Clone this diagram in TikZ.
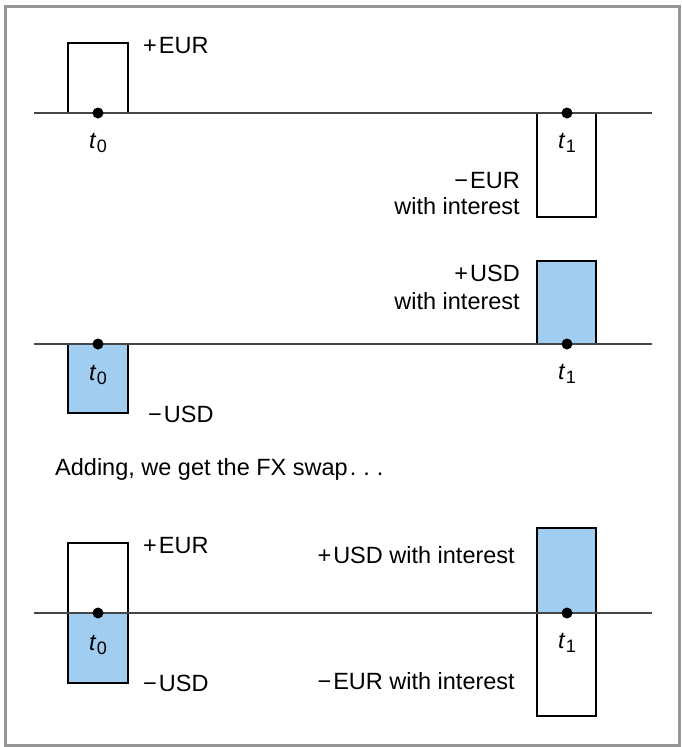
\documentclass[tikz,border=0pt]{standalone}
\usepackage{fontspec}
\setmainfont{Liberation Sans}
\definecolor{cashblue}{RGB}{160,205,240}
\definecolor{framegray}{RGB}{150,150,150}
\definecolor{axisgray}{RGB}{70,70,70}
\newcommand{\tsub}[1]{\textit{t}\kern0.5pt\raisebox{-0.4ex}{\fontsize{18}{19}\selectfont #1}}
\begin{document}
\begin{tikzpicture}[x=1pt,y=-1pt,
  axisline/.style={draw=axisgray,line width=1.5pt},
  cashbox/.style={draw=black,line width=2pt},
  bluebox/.style={fill=cashblue},
  dotmark/.style={circle,fill=black,inner sep=0pt,minimum size=11pt},
  lbl/.style={inner sep=0pt,font=\fontsize{23.5}{27}\selectfont},
  tlbl/.style={inner sep=0pt,font=\fontsize{23.5}{27}\selectfont,anchor=base}]
\useasboundingbox (0,0) rectangle (681,747);
\draw[framegray,line width=3pt] (5.5,6.5) rectangle (679,745);

% ---------- panel 1 ----------
\coordinate (a1l) at (34,113);
\coordinate (a1r) at (652,113);
\draw[cashbox] (68,113) rectangle (128,43);
\draw[cashbox] (537,113) rectangle (596,217);
\draw[axisline] (a1l) -- (a1r);
\node[dotmark] (d10) at (98,113) {};
\node[dotmark] (d11) at (567,113) {};
\node[tlbl] (t10) at (98,148) {\tsub{0}};
\node[tlbl] (t11) at (567,148) {\tsub{1}};
\node[lbl,anchor=base west] (p1eur) at (143,53) {+\kern2pt EUR};
\node[lbl,anchor=base east] (m1eur) at (520,188) {−\kern2pt EUR};
\node[lbl,anchor=base east] (m1int) at (520,214) {with interest};

% ---------- panel 2 ----------
\coordinate (a2l) at (34,344);
\coordinate (a2r) at (652,344);
\draw[cashbox,bluebox] (68,344) rectangle (128,413);
\draw[cashbox,bluebox] (537,344) rectangle (596,261);
\draw[axisline] (a2l) -- (a2r);
\node[dotmark] (d20) at (98,344) {};
\node[dotmark] (d21) at (567,344) {};
\node[tlbl] (t20) at (98,380) {\tsub{0}};
\node[tlbl] (t21) at (567,379) {\tsub{1}};
\node[lbl,anchor=base west] (m2usd) at (148,422) {−\kern2pt USD};
\node[lbl,anchor=base east] (p2usd) at (520,281) {+\kern2pt USD};
\node[lbl,anchor=base east] (p2int) at (520,309) {with interest};

\node[lbl,anchor=base west] (adding) at (55,475) {Adding, we get the FX swap\kern2pt.\kern7pt.\kern7pt.};

% ---------- panel 3 ----------
\coordinate (a3l) at (34,613);
\coordinate (a3r) at (652,613);
\fill[cashblue] (68,613) rectangle (128,683);
\fill[cashblue] (537,613) rectangle (596,528);
\draw[cashbox] (68,543) rectangle (128,683);
\draw[cashbox] (537,528) rectangle (596,716);
\draw[axisline] (a3l) -- (a3r);
\node[dotmark] (d30) at (98,613) {};
\node[dotmark] (d31) at (567,613) {};
\node[tlbl] (t30) at (98,650) {\tsub{0}};
\node[tlbl] (t31) at (567,648) {\tsub{1}};
\node[lbl,anchor=base west] (p3eur) at (143,553) {+\kern2pt EUR};
\node[lbl,anchor=base west] (m3usd) at (143,691) {−\kern2pt USD};
\node[lbl,anchor=base east] (p3usd) at (515,563) {+\kern2pt USD with interest};
\node[lbl,anchor=base east] (m3eur) at (515,689) {−\kern2pt EUR with interest};
\end{tikzpicture}
\end{document}
